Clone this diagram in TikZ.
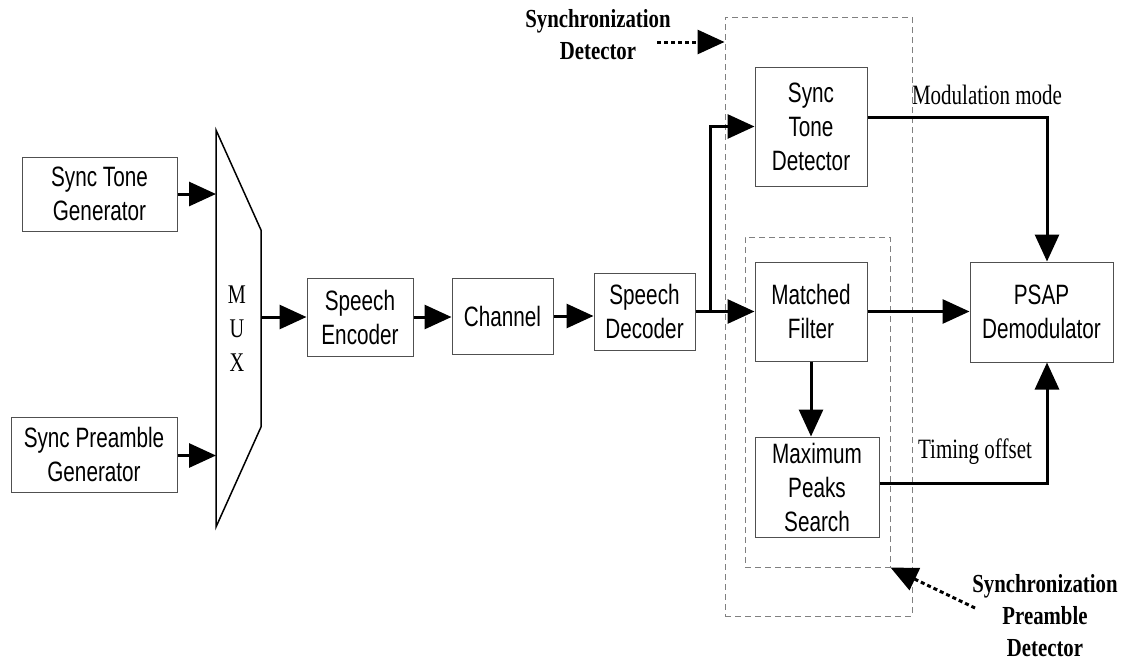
\documentclass[tikz,border=0pt]{standalone}
\usepackage{fontspec}
\usetikzlibrary{arrows.meta}
\newfontfamily\boxfont{Liberation Sans}[FakeStretch=0.74]
\newfontfamily\lblfont{Liberation Serif}[FakeStretch=0.75]
\newfontfamily\blblfont{Liberation Serif}[FakeStretch=0.8]
\definecolor{boxgray}{HTML}{505050}
\definecolor{dashgray}{HTML}{808080}
\tikzset{
  blk/.style={draw=boxgray, line width=1pt, rectangle, align=center, inner sep=0pt,
    font=\boxfont\fontsize{28}{34}\selectfont},
  dbox/.style={draw=dashgray, line width=1pt, dash pattern=on 6pt off 4pt, rectangle, inner sep=0pt},
  arr/.style={line width=3pt, -{Triangle[length=27pt,width=24pt]}},
  ln/.style={line width=3pt},
  dotarr/.style={line width=3pt, dash pattern=on 4pt off 3pt, -{Triangle[length=27pt,width=24pt]}},
  lbl/.style={font=\lblfont\fontsize{28}{34}\selectfont, align=center, inner sep=0pt},
  blbl/.style={font=\blblfont\bfseries\fontsize{26}{32}\selectfont, align=center, inner sep=0pt},
}
\begin{document}
\begin{tikzpicture}[x=1pt,y=-1pt]
\useasboundingbox (0,0) rectangle (1127,665);

% dashed group boxes
\node[dbox, minimum width=187pt, minimum height=599pt] (outer) at (818.5,316.5) {};
\node[dbox, minimum width=145pt, minimum height=330pt] (inner) at (817.5,402) {};

% blocks
\node[blk, minimum width=155pt, minimum height=74pt] (stg) at (99.5,194) {Sync Tone\\Generator};
\node[blk, minimum width=166pt, minimum height=75pt] (spg) at (94,454.5) {Sync Preamble\\Generator};
\node[blk, minimum width=106pt, minimum height=78pt] (enc) at (360,317) {Speech\\Encoder};
\node[blk, minimum width=101pt, minimum height=76pt] (ch) at (502.5,316) {Channel};
\node[blk, minimum width=101pt, minimum height=77pt] (dec) at (644.5,311.5) {Speech\\Decoder};
\node[blk, minimum width=112pt, minimum height=119pt] (std) at (811,126.5) {Sync\\Tone\\Detector};
\node[blk, minimum width=112pt, minimum height=99pt] (mf) at (811,311.5) {Matched\\Filter};
\node[blk, minimum width=124pt, minimum height=100pt] (mps) at (817,487) {Maximum\\Peaks\\Search};
\node[blk, minimum width=143pt, minimum height=100pt] (psap) at (1041.5,312) {PSAP\\Demodulator};

% MUX
\draw[line width=1.5pt] (216,130) -- (261,230) -- (261,427) -- (216,527) -- cycle;
\coordinate (mxl) at (216,318);
\coordinate (mxr) at (261,317);
\node[lbl, font=\lblfont\fontsize{27}{34}\selectfont] (mux) at (237,329) {M\\U\\X};

% connectors
\draw[arr] (stg.east) -- (stg.east -| mxl);
\draw[arr] ([yshift=-1pt]spg.east) -- ([yshift=-1pt]spg.east -| mxl);
\draw[arr] (mxr) -- (enc.west);
\draw[arr] (enc.east) -- (enc.east -| ch.west);
\draw[arr] (ch.east) -- (ch.east -| dec.west);
\coordinate (j) at (710,311.5);
\draw[ln] (dec.east) -- (j);
\draw[arr] (j) |- (std.west);
\draw[arr] (j) -- (mf.west);
\draw[arr] (mf.east) -- (mf.east -| psap.west);
\draw[arr] (mf.south) -- (mf.south |- mps.north);
\draw[arr] ([yshift=9.5pt]std.east) -| ([xshift=5.5pt]psap.north);
\draw[arr] ([yshift=4pt]mps.east) -| ([xshift=5.5pt]psap.south);

% labels
\node[lbl] (mm) at (987,95) {Modulation mode};
\node[lbl] (to) at (975,452) {Timing offset};
\node[blbl] (sd) at (598,35) {Synchronization\\Detector};
\node[blbl] (spd) at (1045,616) {Synchronization\\Preamble\\Detector};

% dotted pointers
\coordinate (sda) at (657,42);
\draw[dotarr] (sda) -- (sda -| outer.west);
\coordinate (spa) at (975,608);
\draw[dotarr] (spa) -- (inner.south east);
\end{tikzpicture}
\end{document}
